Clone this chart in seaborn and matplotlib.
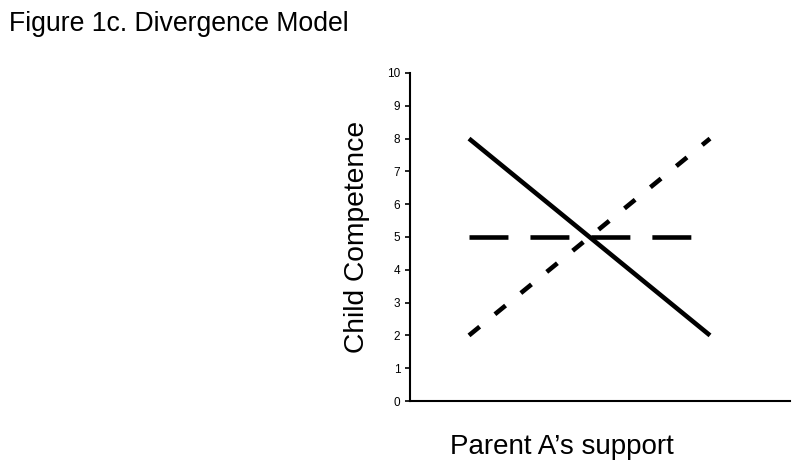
import matplotlib
matplotlib.use("Agg")
import matplotlib.pyplot as plt
import seaborn as sns
import pandas as pd

# Data
x_levels = [0, 1]  # low / high Parent A's support
series_names = ["Parent B low", "Parent B mid", "Parent B high"]
solid_vals = [8, 2]
dashed_vals = [5, 5]
dotted_vals = [2, 8]
y_ticks = list(range(0, 11))

sns.set_theme(style="white")
plt.rcParams['font.family'] = ['Liberation Sans', 'DejaVu Sans']

rows = []
for name, vals in zip(series_names, [solid_vals, dashed_vals, dotted_vals]):
    for xv, yv in zip(x_levels, vals):
        rows.append({"x": xv, "y": yv, "series": name})
df = pd.DataFrame(rows)

fig = plt.figure(figsize=(8, 4.72), dpi=100)
ax = fig.add_axes([410/800, 1-401/472, 380/800, 328/472])

styles = {
    "Parent B low": (0, ()),
    "Parent B mid": (0, (8.5, 4.8)),
    "Parent B high": (0, (3.0, 4.3)),
}
for name in series_names:
    sub = df[df.series == name]
    sns.lineplot(data=sub, x="x", y="y", ax=ax, color="black", linewidth=3.3,
                 linestyle=styles[name], legend=False, solid_capstyle="round",
                 dash_capstyle="butt")

ax.set_xlim(-59/241, 321/241)
ax.set_ylim(0, 10)
ax.set_yticks(y_ticks)
ax.set_yticklabels([str(t) for t in y_ticks], fontsize=8.5, color="black")
ax.set_xticks([])
for s in ["top", "right"]:
    ax.spines[s].set_visible(False)
for s in ["left", "bottom"]:
    ax.spines[s].set_color("black")
    ax.spines[s].set_linewidth(1.5)
ax.tick_params(axis="y", direction="out", length=3.5, width=1.2, color="black", pad=3.5, left=True)
ax.set_xlabel("")
ax.set_ylabel("")

fig.text(357/800, 1-237/472, "Child Competence", rotation=90, ha="center", va="center",
         fontsize=20.3, color="black")
fig.text(562/800, 1-447/472, "Parent A\u2019s support", ha="center", va="center",
         fontsize=20, color="black")
fig.text(9/800, 1-24/472, "Figure 1c. Divergence Model", ha="left", va="center",
         fontsize=19.2, color="black")

fig.savefig("out.png", dpi=100)
